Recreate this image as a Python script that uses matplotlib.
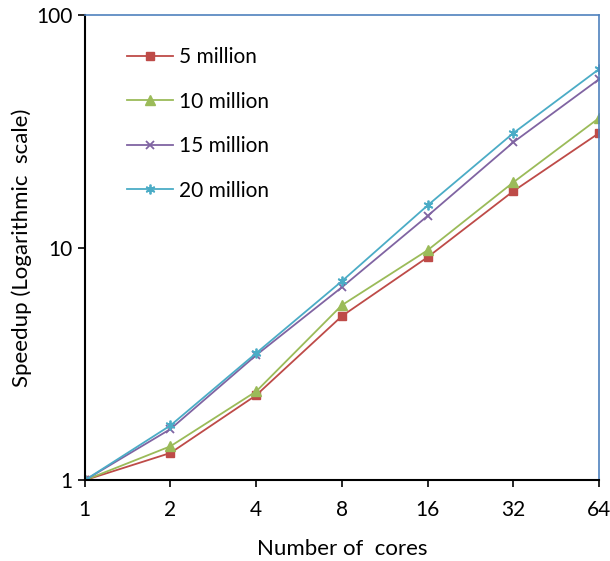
import numpy as np
import matplotlib.pyplot as plt

plt.rcParams['font.family'] = ['Lato', 'DejaVu Sans']

cores = ['1', '2', '4', '8', '16', '32', '64']
s5 = [1, 1.31, 2.32, 5.08, 9.1, 17.5, 31.1]
s10 = [1, 1.40, 2.41, 5.66, 9.75, 19.1, 36.1]
s15 = [1, 1.66, 3.45, 6.76, 13.7, 28.4, 53.0]
s20 = [1, 1.72, 3.52, 7.18, 15.2, 31.1, 58.6]

fig = plt.figure(figsize=(6.1, 5.61), dpi=100)
ax = fig.add_axes([0.139, 0.144, 0.843, 0.829])

x = np.arange(len(cores))
ax.plot(x, s5, color='#be4b48', marker='s', ms=6, lw=1.3, label='5 million')
ax.plot(x, s10, color='#9bbb59', marker='^', ms=7, lw=1.3, label='10 million')
ax.plot(x, s15, color='#8064a2', marker='x', ms=6, mew=1.3, lw=1.3, label='15 million')
ax.plot(x, s20, color='#4bacc6', marker=(6, 2, 0), ms=7, mew=1.3, lw=1.3, label='20 million')

ax.set_yscale('log')
ax.set_ylim(1, 100)
ax.set_xlim(0, 6)
ax.set_yticks([1, 10, 100])
ax.set_yticklabels(['1', '10', '100'])
ax.minorticks_off()
ax.set_xticks(x)
ax.set_xticklabels(cores)
ax.tick_params(labelsize=15, direction='out', length=5, width=1.2)
ax.tick_params(axis='x', pad=9)
ax.tick_params(axis='y', pad=4)

for s in ['left', 'bottom']:
    ax.spines[s].set_color('black')
    ax.spines[s].set_linewidth(1.5)
for s in ['top', 'right']:
    ax.spines[s].set_color('#4f81bd')
    ax.spines[s].set_linewidth(1.2)

ax.set_xlabel('Number of  cores', fontsize=16, labelpad=14)
ax.set_ylabel('Speedup (Logarithmic  scale)', fontsize=16, labelpad=3)

ax.legend(loc='upper left', bbox_to_anchor=(0.045, 0.972), frameon=False,
          fontsize=15, handlelength=2.2, labelspacing=1.18, handletextpad=0.3)

plt.savefig('out.png')
